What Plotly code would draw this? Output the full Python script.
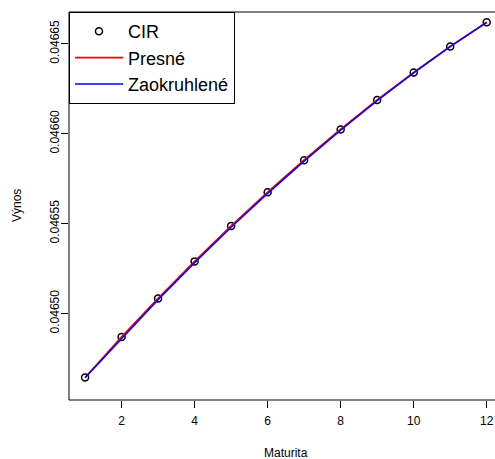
import plotly.graph_objects as go

maturita = [1, 2, 3, 4, 5, 6, 7, 8, 9, 10, 11, 12]
cir = [0.0464644, 0.0464869, 0.0465084, 0.0465290, 0.0465487, 0.0465674,
       0.0465853, 0.0466024, 0.0466187, 0.0466340, 0.0466485, 0.0466620]
presne = [0.0464644, 0.0464870, 0.0465085, 0.0465291, 0.0465488, 0.0465675,
          0.0465854, 0.0466025, 0.0466188, 0.0466341, 0.0466486, 0.0466620]
zaokruhlene = [0.0464643, 0.0464863, 0.0465077, 0.0465283, 0.0465480, 0.0465668,
               0.0465848, 0.0466020, 0.0466184, 0.0466338, 0.0466484, 0.0466619]
x_ticks = [2, 4, 6, 8, 10, 12]
y_ticks = [0.04650, 0.04655, 0.04660, 0.04665]
y_tick_labels = ["0.04650", "0.04655", "0.04660", "0.04665"]

FONT = "Liberation Sans, Arial, sans-serif"

fig = go.Figure()
fig.add_trace(go.Scatter(x=maturita, y=cir, mode="markers", name="CIR",
                         marker=dict(symbol="circle-open", size=7, color="black",
                                     line=dict(width=1.5, color="black"))))
fig.add_trace(go.Scatter(x=maturita, y=presne, mode="lines", name="Presné",
                         line=dict(color="red", width=1.6)))
fig.add_trace(go.Scatter(x=maturita, y=zaokruhlene, mode="lines", name="Zaokruhlené",
                         line=dict(color="blue", width=1.6)))

fig.update_layout(
    width=495, height=459,
    margin=dict(l=69, r=0, t=12, b=59),
    plot_bgcolor="white", paper_bgcolor="white",
    font=dict(family=FONT, size=12, color="black"),
    showlegend=True,
    legend=dict(x=0, y=1, xanchor="left", yanchor="top",
                bgcolor="white", bordercolor="black", borderwidth=1,
                font=dict(size=18, family=FONT, color="black"),
                itemwidth=48, tracegroupgap=0),
    xaxis=dict(range=[0.56, 12.227], tickmode="array", tickvals=x_ticks,
               ticks="outside", ticklen=7, tickcolor="black", showgrid=False,
               zeroline=False, showline=False, tickfont=dict(size=12),
               ticklabelstandoff=3),
    yaxis=dict(range=[0.0464519, 0.0466677], tickmode="array", tickvals=y_ticks,
               ticktext=y_tick_labels, tickangle=-90,
               ticks="outside", ticklen=7, tickcolor="black", showgrid=False,
               zeroline=False, showline=False, tickfont=dict(size=12),
               ticklabelstandoff=-3),
    shapes=[dict(type="rect", xref="paper", yref="paper", x0=0, x1=1.05, y0=0, y1=1,
                 line=dict(color="black", width=1), fillcolor="rgba(0,0,0,0)", layer="above")],
    annotations=[
        dict(text="Maturita", xref="paper", yref="paper", x=(286 - 69) / 426, y=-53 / 388,
             xanchor="center", yanchor="middle", showarrow=False, font=dict(size=12)),
        dict(text="Výnos", xref="paper", yref="paper", x=(17 - 69) / 426, y=0.5,
             xanchor="center", yanchor="middle", textangle=-90, showarrow=False,
             font=dict(size=12)),
    ],
)

fig.write_html("out.html")
